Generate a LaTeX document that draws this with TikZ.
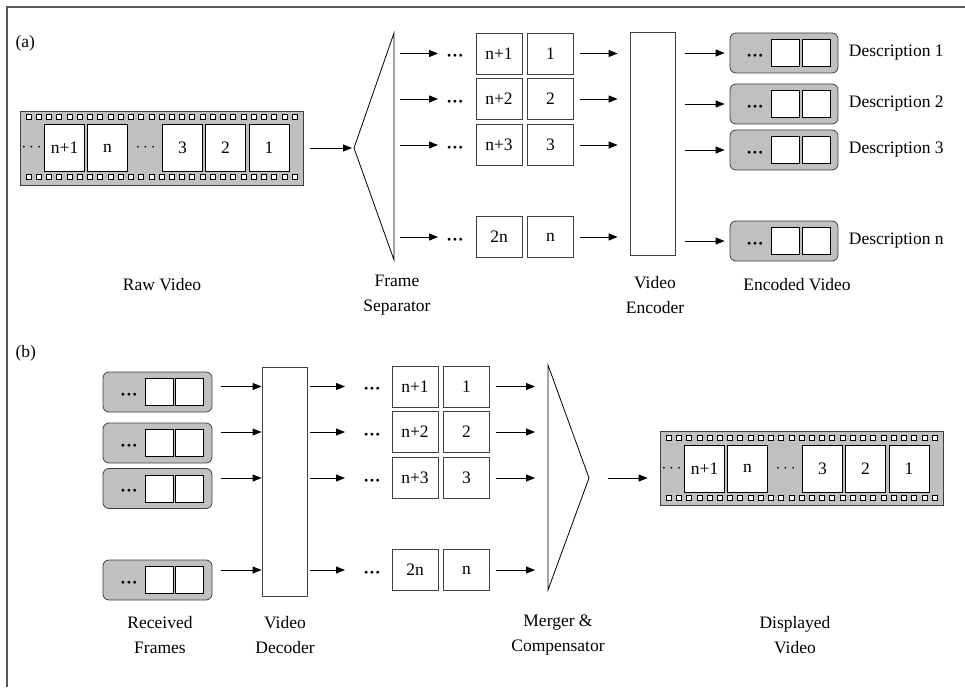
\documentclass[tikz,border=0pt]{standalone}
\usepackage{fontspec}
\setmainfont{Liberation Serif}
\usetikzlibrary{positioning,calc,arrows.meta}
\definecolor{filmgray}{RGB}{192,192,192}
\definecolor{edgegray}{RGB}{64,64,64}
\newcommand{\bdots}{{\bfseries ···}}
\tikzset{
    arr/.style={-{Triangle[length=9pt,width=7pt]}, line width=0.8pt},
    frm/.style={draw=edgegray, fill=white, line width=0.8pt, minimum width=46pt, minimum height=41pt, inner sep=0pt},
    ffrm/.style={draw=black, fill=white, line width=0.8pt, minimum width=40pt, minimum height=47pt, inner sep=0pt},
    film/.style={draw=edgegray, fill=filmgray, line width=0.8pt, minimum width=283pt, minimum height=74pt, inner sep=0pt},
    packet/.style={draw=edgegray, fill=filmgray, rounded corners=6pt, line width=0.8pt, minimum width=108pt, minimum height=40pt, inner sep=0pt},
    pksq/.style={draw=black, fill=white, line width=0.8pt, minimum width=28pt, minimum height=27pt, inner sep=0pt},
    coder/.style={draw=edgegray, fill=white, line width=0.8pt, minimum width=45pt, inner sep=0pt},
    dotsn/.style={inner sep=0pt},
    bdotsn/.style={inner sep=0pt, yshift=-4.5pt},
    lbl/.style={align=center}
}

\begin{document}
\begin{tikzpicture}[x=1pt, y=-1pt, font=\fontsize{17.5}{25}\selectfont]
    \useasboundingbox (0,0) rectangle (965,687);
    \draw[line width=1.2pt, black!65] (7,687) -- (7,7) -- (965,7);

    \node[anchor=west] (lbla) at (12,43) {(a)};
    \node[anchor=west] (lblb) at (12,353) {(b)};

    % Film strips
    \foreach \f/\cx/\cy in {raw/161.5/148, disp/801.5/468.5} {
        \node[film] (\f) at (\cx,\cy) {};
        \foreach \k in {0,...,26} {
            \draw[fill=white, line width=0.6pt] ($(\f.north west)+({6.5+10.23*\k},4)$) rectangle +(5,5);
            \draw[fill=white, line width=0.6pt] ($(\f.north west)+({6.5+10.23*\k},64)$) rectangle +(5,5);
        }
        \foreach \x/\t [count=\n] in {45/n+1, 88/n, 163/3, 206/2, 249.5/1}
            \node[ffrm] (\f-\n) at ($(\f.west)+(\x,0)$) {\t};
        \node[dotsn] (\f-da) at ($(\f.west)+(12,0)$) {$\cdots$};
        \node[dotsn] (\f-db) at ($(\f.west)+(126,0)$) {$\cdots$};
    }

    % Frame separator
    \coordinate (septop) at (394,33);
    \coordinate (sepbot) at (394,260);
    \coordinate (sepapex) at (354,148);
    \draw[line width=0.8pt] (septop) -- (sepapex) -- (sepbot) -- cycle;
    \draw[arr, shorten <=7pt, shorten >=2pt] (raw) -- (sepapex);

    % Encoder
    \node[coder, minimum height=223pt] (enc) at (652.5,143.5) {};

    \foreach \i/\y/\a/\b in {1/53.5/n+1/1, 2/99/n+2/2, 3/145/n+3/3, 4/237/2n/n} {
        \coordinate (sr\i) at (455,\y);
        \node[bdotsn] (sd\i) at (sr\i) {\bdots};
        \node[frm] (sa\i) at (499,\y) {\a};
        \node[frm] (sb\i) at (550.5,\y) {\b};
        \draw[arr, shorten <=6pt, shorten >=17pt] (septop |- sr\i) -- (sr\i);
        \draw[arr, shorten <=6pt, shorten >=12pt] (sb\i) -- (enc.west |- sb\i);
    }

    % Encoded descriptions
    \foreach \i/\y/\t in {1/53/1, 2/104/2, 3/150/3, 4/241/n} {
        \node[packet] (ep\i) at (784,\y) {};
        \node[bdotsn] (ep\i-d) at ($(ep\i)+(-29,0)$) {\bdots};
        \node[pksq] (ep\i-a) at ($(ep\i)+(1.5,0)$) {};
        \node[pksq] (ep\i-b) at ($(ep\i)+(32,0)$) {};
        \node[right=7pt of ep\i] (desc\i) {Description \t};
        \draw[arr, shorten <=10pt, shorten >=5pt] (enc.east |- ep\i) -- (ep\i);
    }

    % Decoder
    \node[coder, minimum height=229pt] (dec) at (284.5,481.5) {};

    \coordinate (mgtop) at (548,365);
    \coordinate (mgbot) at (548,590);
    \coordinate (mgapex) at (589,478);
    \draw[line width=0.8pt] (mgtop) -- (mgapex) -- (mgbot) -- cycle;

    \foreach \i/\y/\a/\b in {1/386.5/n+1/1, 2/432/n+2/2, 3/478/n+3/3, 4/570/2n/n} {
        \coordinate (mr\i) at (372,\y);
        \node[bdotsn] (md\i) at (mr\i) {\bdots};
        \node[frm] (ma\i) at (415,\y) {\a};
        \node[frm] (mb\i) at (466.5,\y) {\b};
        \draw[arr, shorten <=3pt, shorten >=27pt] (dec.east |- mr\i) -- (mr\i);
        \draw[arr, shorten <=6pt, shorten >=13pt] (mb\i) -- (mgtop |- mb\i);
    }

    % Received frames
    \foreach \i/\y in {1/392, 2/443, 3/488.5, 4/580} {
        \node[packet, minimum width=109pt] (rp\i) at (157.5,\y) {};
        \node[bdotsn] (rp\i-d) at ($(rp\i)+(-28.5,0)$) {\bdots};
        \node[pksq] (rp\i-a) at ($(rp\i)+(1.5,0)$) {};
        \node[pksq] (rp\i-b) at ($(rp\i)+(31.5,0)$) {};
        \draw[arr, shorten <=9pt] (rp\i.east |- mr\i) -- (dec.west |- mr\i);
    }

    \draw[arr, shorten <=19pt, shorten >=12pt] (mgapex) -- (disp.west |- mgapex);

    % Captions
    \node[lbl] (rawlbl) at (162,285) {Raw Video};
    \node[lbl] (seplbl) at (397,295.5) {Frame\\Separator};
    \node[lbl] (enclbl) at (655,295.5) {Video\\Encoder};
    \node[lbl] (eplbl) at (797,285) {Encoded Video};
    \node[lbl] (rplbl) at (160,635) {Received\\Frames};
    \node[lbl] (declbl) at (285,635) {Video\\Decoder};
    \node[lbl] (mglbl) at (558,635) {Merger \&\\Compensator};
    \node[lbl] (displbl) at (795,635) {Displayed\\Video};
\end{tikzpicture}
\end{document}
